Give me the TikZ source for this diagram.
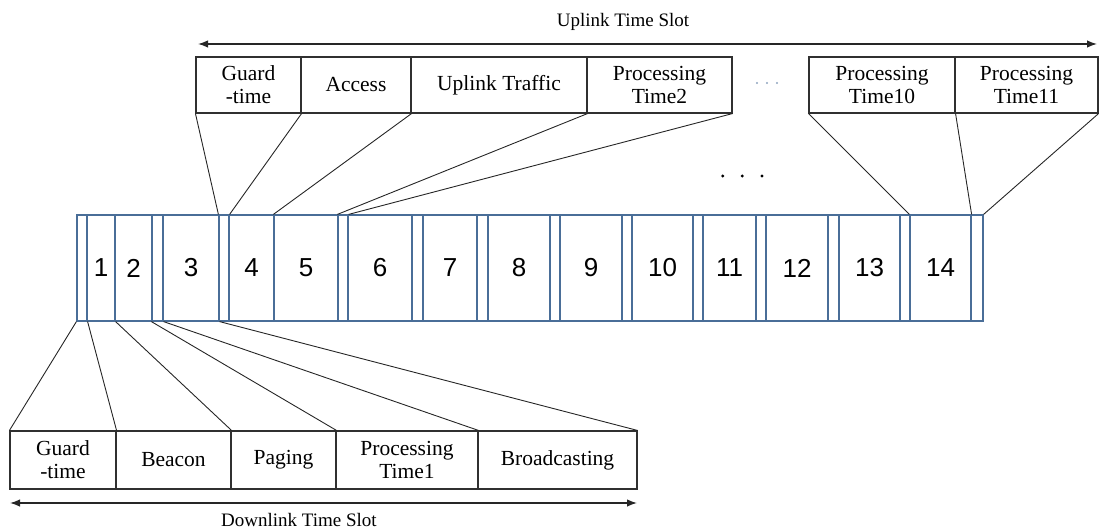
\documentclass[tikz,border=0pt]{standalone}
\usepackage{fontspec}
\setmainfont{Liberation Serif}
\newfontfamily\numfont{Liberation Sans}
\usetikzlibrary{arrows.meta}
\definecolor{barblue}{HTML}{4A6E98}
\definecolor{linegray}{HTML}{262626}
\definecolor{boxgray}{HTML}{303030}
\definecolor{dotblue}{HTML}{8FA3BF}
\tikzset{
  cell/.style={draw=barblue, line width=1.2pt, minimum height=106pt, inner sep=0pt, font=\numfont\fontsize{26}{26}\selectfont},
  topbox/.style={draw=boxgray, line width=1.1pt, minimum height=56pt, inner sep=0pt, align=center, font=\fontsize{21.5}{23}\selectfont},
  botbox/.style={draw=boxgray, line width=1.1pt, minimum height=58pt, inner sep=0pt, align=center, font=\fontsize{21.5}{23}\selectfont},
  conn/.style={draw=linegray, line width=0.9pt},
  span/.style={draw=linegray, line width=1.4pt, {Latex[length=10pt,width=7.5pt]}-{Latex[length=10pt,width=7.5pt]}},
  slotlabel/.style={font=\fontsize{19}{19}\selectfont, inner sep=0pt, anchor=base},
}
\begin{document}
\begin{tikzpicture}[x=1pt,y=-1pt]
\useasboundingbox (0,0) rectangle (1099,529);
% bar
\foreach \n/\l/\r/\t in {g0/77/87/{},s1/87/115/1,s2/115/152/2,g2/152/163/{},s3/163/219/3,g3/219/229/{},s4/229/274/4,s5/274/338/5,g5/338/348/{},s6/348/412/6,g6/412/423/{},s7/423/477/7,g7/477/488/{},s8/488/550/8,g8/550/560/{},s9/560/622/9,g9/622/632/{},s10/632/693/10,g10/693/703/{},s11/703/756/11,g11/756/766/{},s12/766/828/12,g12/828/839/{},s13/839/900/13,g13/900/910/{},s14/910/971/14,g14/971/983/{}} {
  \pgfmathsetmacro\w{\r-\l}
  \pgfmathsetmacro\c{(\r+\l)/2}
  \node[cell, minimum width=\w pt] (\n) at (\c,268) {\t};
}
% top boxes
\foreach \n/\l/\r/\t in {tg/196/301/{Guard\\-time},ta/301/411/{Access},tu/411/587/{Uplink Traffic},tp2/587/732/{Processing\\Time2},tp10/809/955/{Processing\\Time10},tp11/955/1098/{Processing\\Time11}} {
  \pgfmathsetmacro\w{\r-\l}
  \pgfmathsetmacro\c{(\r+\l)/2}
  \node[topbox, minimum width=\w pt] (\n) at (\c,85) {\t};
}
% bottom boxes
\foreach \n/\l/\r/\t in {bg/10/116/{Guard\\-time},bb/116/231/{Beacon},bp/231/336/{Paging},bpt/336/478/{Processing\\Time1},bbr/478/637/{Broadcasting}} {
  \pgfmathsetmacro\w{\r-\l}
  \pgfmathsetmacro\c{(\r+\l)/2}
  \node[botbox, minimum width=\w pt] (\n) at (\c,460) {\t};
}
% top connectors
\draw[conn] (tg.south west) -- (g3.north west);
\draw[conn] (tg.south east) -- (g3.north east);
\draw[conn] (ta.south east) -- (s5.north west);
\draw[conn] (tu.south east) -- (g5.north west);
\draw[conn] (tp2.south east) -- (g5.north east);
\draw[conn] (tp10.south west) -- (s14.north west);
\draw[conn] (tp10.south east) -- (s14.north east);
\draw[conn] (tp11.south east) -- (g14.north east);
% bottom connectors
\draw[conn] (bg.north west) -- (g0.south west);
\draw[conn] (bg.north east) -- (g0.south east);
\draw[conn] (bb.north east) -- (s1.south east);
\draw[conn] (bp.north east) -- (g2.south west);
\draw[conn] (bpt.north east) -- (g2.south east);
\draw[conn] (bbr.north east) -- (s3.south east);
% span arrows
\coordinate (ua) at (198,44);
\coordinate (ub) at (1097,44);
\draw[span] (ua) -- (ub);
\node[slotlabel] (ul) at (623,27) {Uplink Time Slot};
\coordinate (da) at (10,503);
\coordinate (db) at (637,503);
\draw[span] (da) -- (db);
\node[slotlabel] (dl) at (299,526) {Downlink Time Slot};
% dots
\foreach \x in {722.7,742.3,762} \fill[black] (\x,176) circle (1.6pt);
\foreach \x in {757,767,777} \fill[dotblue] (\x,83) circle (1.1pt);
\end{tikzpicture}
\end{document}
